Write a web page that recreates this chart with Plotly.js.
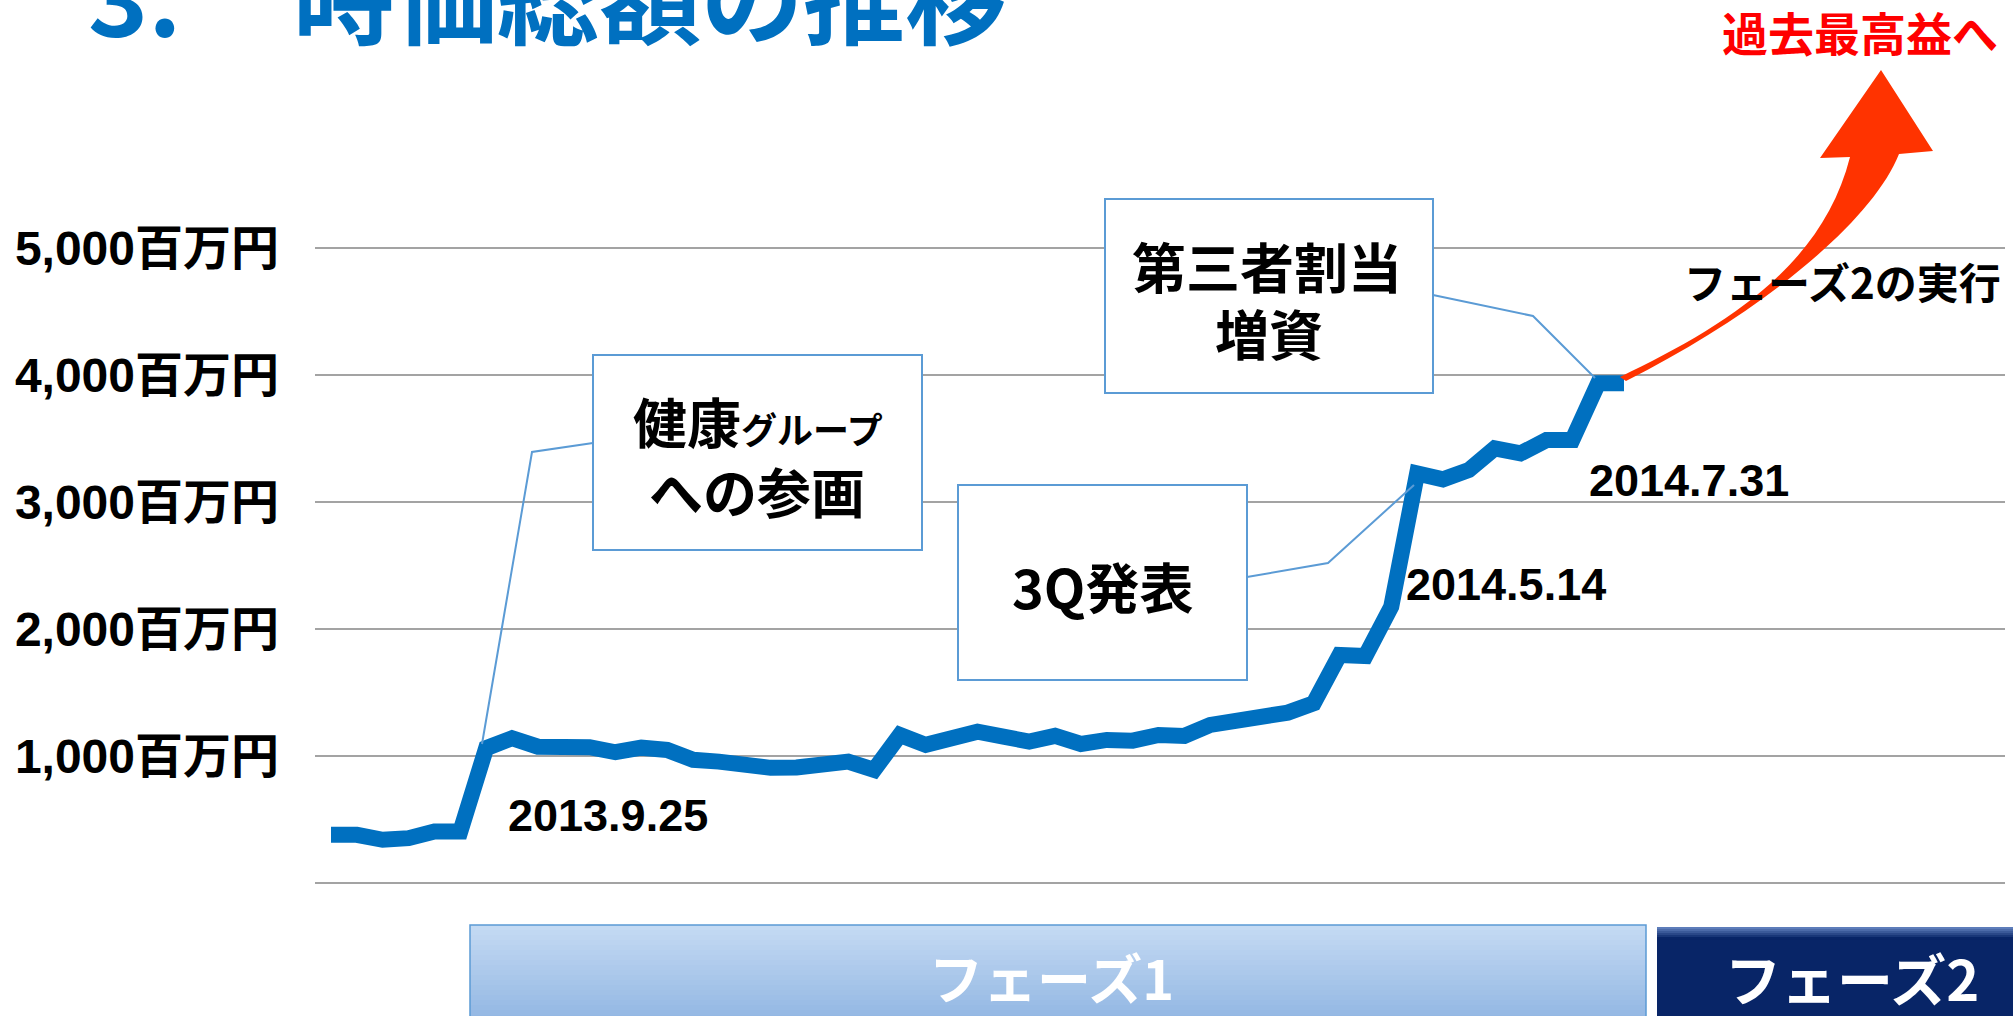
<!DOCTYPE html>
<html><head><meta charset="utf-8">
<script src="https://cdn.plot.ly/plotly-3.0.1.min.js"></script>
<style>html,body{margin:0;padding:0;background:#fff;overflow:hidden}#chart{width:2013px;height:1016px;}</style>
</head><body><div id="chart"></div>
<script>
// ---- data ----
const marketCap = [378, 378, 339, 352, 404, 404, 1061, 1139, 1073, 1069,
  1069, 1029, 1065, 1047, 969, 955, 929, 906, 909, 947,
  955, 890, 1165, 1087, 1139, 1191, 1152, 1113, 1158, 1094,
  1126, 1120, 1165, 1157, 1244, 1283, 1323, 1341, 1415, 1795,
  1787, 2176, 3226, 3179, 3252, 3423, 3383, 3488, 3488, 3935, 3935];
const tickVals = [0, 1000, 2000, 3000, 4000, 5000];
const tickLabels = ['', '1,000百万円', '2,000百万円', '3,000百万円', '4,000百万円', '5,000百万円'];
const dateLabels = ['2013.9.25', '2014.5.14', '2014.7.31'];
const titleNum = '3.';
const titleText = '時価総額の推移';
const calloutKenko = ['健康<span style="font-size:36px">グループ</span>', 'への参画'];
const callout3Q = '3Q発表';
const calloutDaisan = ['第三者割当', '増資'];
const phaseLabels = ['フェーズ1', 'フェーズ2'];
const phase2Action = 'フェーズ2の実行';
const goalText = '過去最高益へ';

// ---- geometry helpers (pixels -> paper) ----
const W = 2013, H = 1016;
const Y0PX = 883, Y5000PX = 248;           // pixel rows of 0 and 5,000
const PXPERUNIT = (Y0PX - Y5000PX) / 5000;
const YMIN = -80, YMAX = 5080;
const ML = 315, MR = 8;
const MT = Math.round(Y5000PX - (YMAX - 5000) * PXPERUNIT);
const MB = H - Math.round(Y0PX + (0 - YMIN) * PXPERUNIT);
const PW = W - ML - MR, PH = H - MT - MB;
const px = x => (x - ML) / PW;
const py = y => (H - MB - y) / PH;

const xIdx = marketCap.map((v, i) => i);

const CJK = '"Noto Sans CJK JP", sans-serif';
const LAT = '"Liberation Sans", "Noto Sans CJK JP", sans-serif';
const BORDER = '#5B9BD5';

const shapes = [];
function rect(x0, y0, x1, y1, fill, lineColor, lw) {
  shapes.push({type: 'rect', xref: 'paper', yref: 'paper', layer: 'above',
    x0: px(x0), x1: px(x1), y0: py(y1), y1: py(y0),
    fillcolor: fill, line: {color: lineColor || 'rgba(0,0,0,0)', width: lw || 0}});
}
function path(pts, close, fill, lineColor, lw) {
  let d = '';
  pts.forEach((p, i) => {
    if (p[0] === 'C') d += ' C' + px(p[1]) + ',' + py(p[2]) + ' ' + px(p[3]) + ',' + py(p[4]) + ' ' + px(p[5]) + ',' + py(p[6]);
    else d += (i === 0 ? 'M' : ' L') + px(p[0]) + ',' + py(p[1]);
  });
  if (close) d += ' Z';
  shapes.push({type: 'path', xref: 'paper', yref: 'paper', layer: 'above', path: d,
    fillcolor: fill || 'rgba(0,0,0,0)', line: {color: lineColor || 'rgba(0,0,0,0)', width: lw || 0}});
}
function lerpColor(a, b, t) {
  const pa = [1,3,5].map(k => parseInt(a.substr(k,2),16));
  const pb = [1,3,5].map(k => parseInt(b.substr(k,2),16));
  return 'rgb(' + pa.map((v,i) => Math.round(v + (pb[i]-v)*t)).join(',') + ')';
}

// Phase bars (gradient built from strips)
const p1Top = 925, p1Bot = 1020, nStrip = 19;
for (let i = 0; i < nStrip; i++) {
  const y0 = p1Top + (p1Bot - p1Top) * i / nStrip, y1 = p1Top + (p1Bot - p1Top) * (i + 1) / nStrip + 0.6;
  rect(470, y0, 1646, y1, lerpColor('#C4DAF3', '#93B7E3', i / (nStrip - 1)));
}
rect(470, p1Top, 1646, p1Bot, 'rgba(0,0,0,0)', BORDER, 1.5);
rect(1657, 927, 2020, 1020, '#082567');
for (let i = 0; i < 6; i++) {
  rect(1657, 927 + i * 2, 2020, 929 + i * 2 + 0.6, lerpColor('#5D7DBA', '#082567', i / 5));
}

// Callout boxes
rect(593, 355, 922, 550, '#FFFFFF', BORDER, 2);
path([[593, 443], [532, 452], [482, 744]], false, null, BORDER, 2);
rect(958, 485, 1247, 680, '#FFFFFF', BORDER, 2);
path([[1247, 577], [1328, 563], [1414, 485]], false, null, BORDER, 2);
rect(1105, 199, 1433, 393, '#FFFFFF', BORDER, 2);
path([[1433, 295], [1533, 316], [1595, 378]], false, null, BORDER, 2);

// Red growth arrow
path([[1620, 377], ['C', 1722, 328, 1822, 268, 1850, 157], [1820, 158], [1881, 70], [1933, 151], [1899, 154],
      ['C', 1872, 222, 1762, 312, 1626, 381]], true, '#FF3300', null, 0);

// Text annotations
const annotations = [];
function ann(text, x, y, size, color, xanchor, family, extra) {
  annotations.push(Object.assign({text: text, xref: 'paper', yref: 'paper', x: px(x), y: py(y),
    xanchor: xanchor || 'center', yanchor: 'middle', showarrow: false,
    font: {family: family || CJK, size: size, color: color || '#000', weight: 'bold'}}, extra || {}));
}
ann(titleNum, 86, -7, 102, '#0070C0', 'left');
ann(titleText, 291, -7, 102, '#0070C0', 'left');
ann(goalText, 1860, 31, 46, '#FF0000');
ann(phase2Action, 1842, 280, 42, '#000000');
ann(calloutKenko[0], 758, 420, 54);
ann(calloutKenko[1], 757, 490, 54);
ann(callout3Q, 1102, 585, 54);
ann(calloutDaisan[0], 1267, 265, 54);
ann(calloutDaisan[1], 1269, 332, 54);
ann(dateLabels[0], 506, 815, 45, '#000', 'left', LAT);
ann(dateLabels[1], 1404, 584, 45, '#000', 'left', LAT);
ann(dateLabels[2], 1587, 480, 45, '#000', 'left', LAT);
ann(phaseLabels[0], 1051, 976, 54, '#FFFFFF');
ann(phaseLabels[1], 1852, 976, 56, '#FFFFFF');

const trace = {x: xIdx, y: marketCap, type: 'scatter', mode: 'lines',
  line: {color: '#0070C0', width: 16}, hoverinfo: 'skip'};

const layout = {
  width: W, height: H, autosize: false,
  margin: {l: ML, r: MR, t: MT, b: MB, pad: 0},
  paper_bgcolor: '#FFFFFF', plot_bgcolor: '#FFFFFF',
  showlegend: false,
  xaxis: {range: [-(331 - ML) / 25.86, 50 + (W - MR - 1624) / 25.86], showgrid: false, zeroline: false,
    showline: false, showticklabels: false, ticks: ''},
  yaxis: {range: [YMIN, YMAX], tickmode: 'array', tickvals: tickVals, ticktext: tickLabels,
    showgrid: true, gridcolor: '#A3A3A3', gridwidth: 2, zeroline: false, showline: false, ticks: '',
    ticklabelstandoff: 35,
    tickfont: {family: LAT, size: 48, color: '#000000', weight: 'bold'}},
  shapes: shapes,
  annotations: annotations
};
Plotly.newPlot('chart', [trace], layout, {staticPlot: true, displayModeBar: false});
</script>
</body></html>
